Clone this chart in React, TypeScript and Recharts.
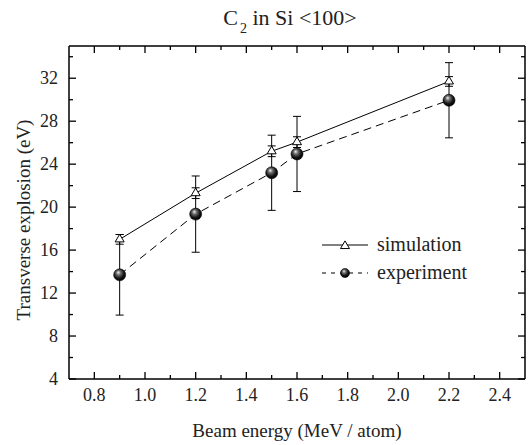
import { LineChart, Line, XAxis, YAxis, ErrorBar } from "recharts";

// beam energy (MeV / atom)
const energy = [0.9, 1.2, 1.5, 1.6, 2.2];
// transverse explosion (eV)
const simulation = [17.0, 21.3, 25.2, 26.05, 31.7];
const simulationErr = [0.45, 0.5, 0.5, 0.5, 0.45];
const experiment = [13.7, 19.35, 23.2, 24.95, 29.95];
const experimentErr = [3.75, 3.55, 3.5, 3.5, 3.5];

const xTicks = [0.8, 0.9, 1.0, 1.1, 1.2, 1.3, 1.4, 1.5, 1.6, 1.7, 1.8, 1.9, 2.0, 2.1, 2.2, 2.3, 2.4];
const xLabels = ["0.8", "1.0", "1.2", "1.4", "1.6", "1.8", "2.0", "2.2", "2.4"];
const yTicks = [4, 6, 8, 10, 12, 14, 16, 18, 20, 22, 24, 26, 28, 30, 32, 34];
const yLabels = ["4", "8", "12", "16", "20", "24", "28", "32"];

const data = energy.map((e, i) => ({
  e,
  sim: simulation[i],
  simErr: simulationErr[i],
  exp: experiment[i],
  expErr: experimentErr[i],
}));

const FONT = '"Liberation Serif", "DejaVu Serif", serif';
const txt = { fontFamily: FONT };
const MAJOR = 7;
const MINOR = 4;

const fmtX = (v: number) => v.toFixed(1);
const fmtY = (v: number) => String(Math.round(v));

function BottomTick(props: any) {
  const { x, y, payload } = props;
  const label = fmtX(payload.value);
  const major = xLabels.includes(label);
  return (
    <g>
      <line x1={x} x2={x} y1={y} y2={y - (major ? MAJOR : MINOR)} stroke="#000" strokeWidth={1.3} />
      {major && (
        <text x={x} y={y + 22} textAnchor="middle" fontSize={18} style={txt} fill="#222">
          {label}
        </text>
      )}
    </g>
  );
}

function TopTick(props: any) {
  const { x, y, payload } = props;
  const major = xLabels.includes(fmtX(payload.value));
  return <line x1={x} x2={x} y1={y} y2={y + (major ? MAJOR : MINOR)} stroke="#000" strokeWidth={1.3} />;
}

function LeftTick(props: any) {
  const { x, y, payload } = props;
  const label = fmtY(payload.value);
  const major = yLabels.includes(label);
  return (
    <g>
      <line x1={x} x2={x + (major ? MAJOR : MINOR)} y1={y} y2={y} stroke="#000" strokeWidth={1.3} />
      {major && (
        <text x={x - 11} y={y + 6} textAnchor="end" fontSize={18} style={txt} fill="#222">
          {label}
        </text>
      )}
    </g>
  );
}

function RightTick(props: any) {
  const { x, y, payload } = props;
  const major = yLabels.includes(fmtY(payload.value));
  return <line x1={x} x2={x - (major ? MAJOR : MINOR)} y1={y} y2={y} stroke="#000" strokeWidth={1.3} />;
}

function Triangle({ cx, cy, s = 4.5 }: { cx: number; cy: number; s?: number }) {
  const h = s * 1.7;
  return (
    <polygon
      points={`${cx - s},${cy + h / 3} ${cx + s},${cy + h / 3} ${cx},${cy - (2 * h) / 3}`}
      fill="#fff"
      stroke="#000"
      strokeWidth={1}
    />
  );
}

function Ball({ cx, cy, r = 6 }: { cx: number; cy: number; r?: number }) {
  return <circle cx={cx} cy={cy} r={r} fill="url(#ballGrad)" stroke="#000" strokeWidth={0.6} />;
}

const axisLine = { stroke: "#000", strokeWidth: 1.5 };

export default function App() {
  return (
    <div style={{ position: "absolute", left: 0, top: 0, width: 531, height: 445, background: "#fff" }}>
      <svg width={0} height={0} style={{ position: "absolute" }}>
        <defs>
          <radialGradient id="ballGrad" cx="45%" cy="40%" r="60%" fx="38%" fy="30%">
            <stop offset="0%" stopColor="#f0f0f0" />
            <stop offset="30%" stopColor="#707070" />
            <stop offset="70%" stopColor="#151515" />
            <stop offset="100%" stopColor="#000" />
          </radialGradient>
        </defs>
      </svg>
      <LineChart
        width={531}
        height={445}
        data={data}
        margin={{ top: 45, right: 5, bottom: 65, left: 68 }}
      >
        <XAxis
          xAxisId="b"
          dataKey="e"
          type="number"
          domain={[0.7, 2.5]}
          ticks={xTicks}
          interval={0}
          height={1}
          tickSize={0}
          tickMargin={0}
          tickLine={false}
          axisLine={axisLine}
          tick={BottomTick}
          allowDataOverflow
        />
        <XAxis
          xAxisId="t"
          orientation="top"
          dataKey="e"
          type="number"
          domain={[0.7, 2.5]}
          ticks={xTicks}
          interval={0}
          height={1}
          tickSize={0}
          tickMargin={0}
          tickLine={false}
          axisLine={axisLine}
          tick={TopTick}
          allowDataOverflow
        />
        <YAxis
          yAxisId="l"
          type="number"
          domain={[4, 35]}
          ticks={yTicks}
          interval={0}
          width={1}
          tickSize={0}
          tickMargin={0}
          tickLine={false}
          axisLine={axisLine}
          tick={LeftTick}
          allowDataOverflow
        />
        <YAxis
          yAxisId="r"
          orientation="right"
          type="number"
          domain={[4, 35]}
          ticks={yTicks}
          interval={0}
          width={1}
          tickSize={0}
          tickMargin={0}
          tickLine={false}
          axisLine={axisLine}
          tick={RightTick}
          allowDataOverflow
        />
        <Line
          xAxisId="b"
          yAxisId="l"
          dataKey="exp"
          stroke="#000"
          strokeWidth={1}
          strokeDasharray="8 5"
          isAnimationActive={false}
          dot={(p: any) => <Ball key={p.index} cx={p.cx} cy={p.cy} />}
        >
          <ErrorBar dataKey="expErr" width={4} stroke="#000" strokeWidth={1} direction="y" />
        </Line>
        <Line
          xAxisId="b"
          yAxisId="l"
          dataKey="sim"
          stroke="#000"
          strokeWidth={1}
          isAnimationActive={false}
          dot={(p: any) => <Triangle key={p.index} cx={p.cx} cy={p.cy} />}
        >
          <ErrorBar dataKey="simErr" width={4} stroke="#000" strokeWidth={1} direction="y" />
        </Line>
      </LineChart>
      <svg
        width={531}
        height={445}
        style={{ position: "absolute", left: 0, top: 0, pointerEvents: "none", fontFamily: FONT }}
        fill="#222"
      >
        <text x={290} y={25} textAnchor="middle" fontSize={22}>
          C<tspan fontSize={14} dy={8} dx={2}>2</tspan>
          <tspan dy={-8}> in Si &lt;100&gt;</tspan>
        </text>
        <text x={297} y={437} textAnchor="middle" fontSize={19}>
          Beam energy (MeV / atom)
        </text>
        <text x={30} y={220} textAnchor="middle" fontSize={19} transform="rotate(-90 30 220)">
          Transverse explosion (eV)
        </text>
        <line x1={322} x2={368} y1={245} y2={245} stroke="#000" strokeWidth={1} />
        <Triangle cx={345} cy={246} s={4.5} />
        <text x={377} y={251} fontSize={20}>simulation</text>
        <line x1={322} x2={368} y1={273} y2={273} stroke="#000" strokeWidth={1} strokeDasharray="4 5" />
        <Ball cx={345} cy={273} r={4.5} />
        <text x={377} y={279} fontSize={20}>experiment</text>
      </svg>
    </div>
  );
}
